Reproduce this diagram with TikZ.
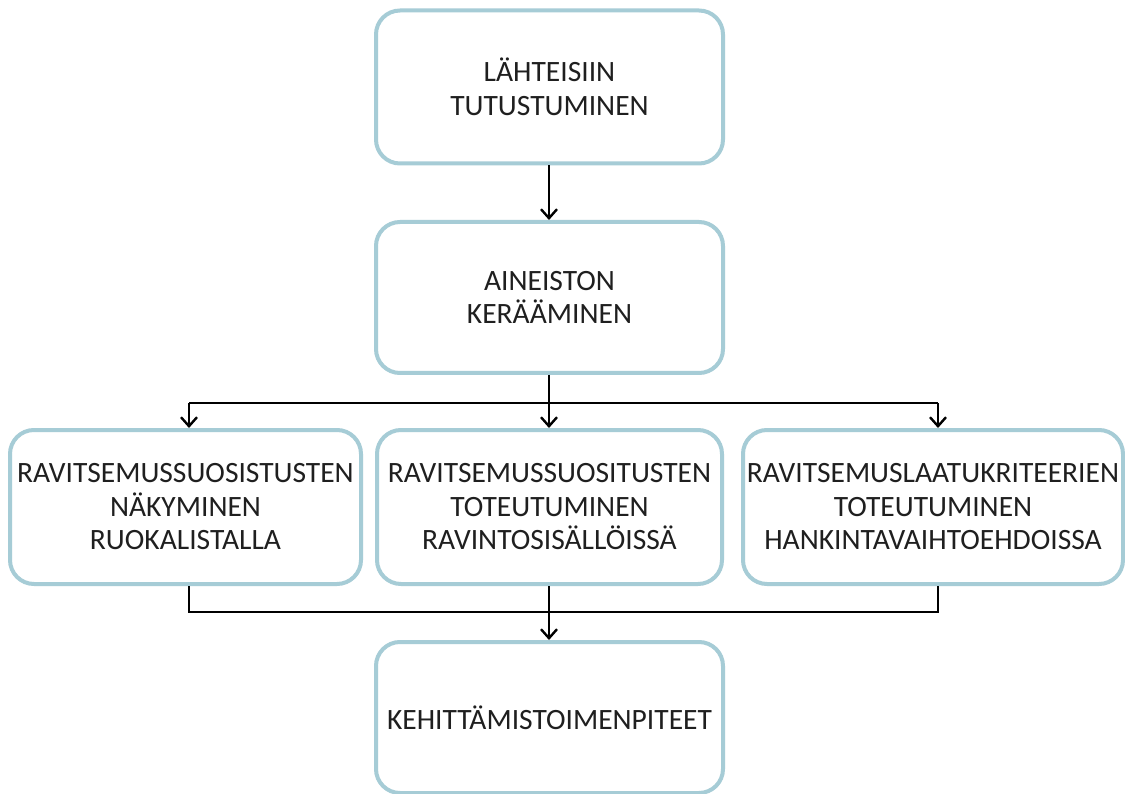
\documentclass[tikz,border=0pt]{standalone}
\usepackage{fontspec}
\setmainfont{Carlito}
\usetikzlibrary{arrows.meta}
\definecolor{boxline}{HTML}{A6CCD6}
\begin{document}
\begin{tikzpicture}[x=1pt,y=-1pt,
  box/.style={draw=boxline, line width=4pt, rounded corners=24pt, fill=white,
    align=center, font=\fontsize{29.5}{33.5}\selectfont, text=black!88, inner sep=0pt},
  conn/.style={line width=2.6pt, black},
  arr/.style={conn, -{Straight Barb[length=9pt,width=16pt,line width=2.4pt]}}]
\useasboundingbox (0,0) rectangle (1125,794);
\fill[white] (0,0) rectangle (1125,794);
\node[box, minimum width=347pt, minimum height=153pt] (b1) at (549.5,87) {LÄHTEISIIN\\TUTUSTUMINEN};
\node[box, minimum width=347pt, minimum height=151pt] (b2) at (549.5,297.5) {AINEISTON\\KERÄÄMINEN};
\node[box, minimum width=351pt, minimum height=154pt] (l) at (185.5,507) {RAVITSEMUSSUOSISTUSTEN\\NÄKYMINEN\\RUOKALISTALLA};
\node[box, minimum width=345pt, minimum height=154pt] (m) at (549.5,507) {RAVITSEMUSSUOSITUSTEN\\TOTEUTUMINEN\\RAVINTOSISÄLLÖISSÄ};
\node[box, minimum width=380pt, minimum height=154pt] (r) at (933,507) {RAVITSEMUSLAATUKRITEERIEN\\TOTEUTUMINEN\\HANKINTAVAIHTOEHDOISSA};
\node[box, minimum width=347pt, minimum height=151pt] (b3) at (549.5,717.5) {KEHITTÄMISTOIMENPITEET};
\coordinate (jT) at (549,403);
\coordinate (jTL) at (189,403);
\coordinate (jTR) at (938,403);
\coordinate (jB) at (549,612);
\coordinate (jBL) at (189,612);
\coordinate (jBR) at (938,612);
\draw[arr] (b1.south -| jT) -- (b2.north -| jT);
\draw[conn] (b2.south -| jT) -- (jT);
\draw[conn] (jTL) -- (jTR);
\draw[arr] (jTL) -- (l.north -| jTL);
\draw[arr] (jT) -- (m.north -| jT);
\draw[arr] (jTR) -- (r.north -| jTR);
\draw[conn] (l.south -| jBL) -- (jBL) -- (jBR) -- (r.south -| jBR);
\draw[arr] (m.south -| jB) -- (b3.north -| jB);
\end{tikzpicture}
\end{document}
